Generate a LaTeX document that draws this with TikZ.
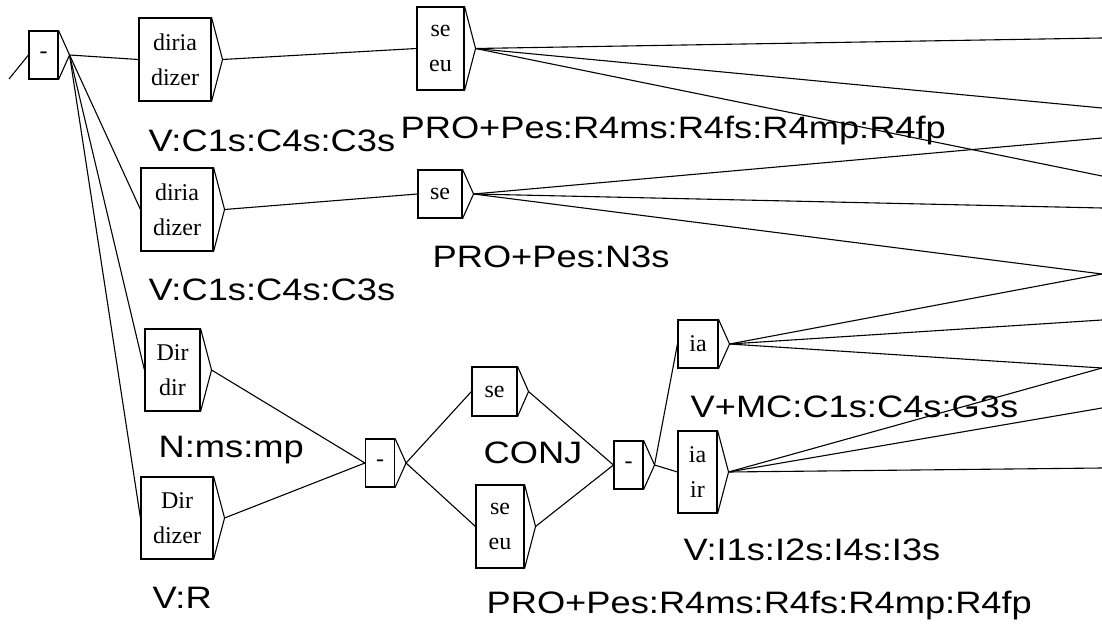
\documentclass[tikz,border=0pt]{standalone}
\usepackage{fontspec}
\newfontfamily\boxfont{Liberation Serif}
\newfontfamily\tagfont{Liberation Sans}
\usetikzlibrary{positioning}

\begin{document}
\begin{tikzpicture}[
  x=1pt, y=-1pt,
  line width=1.1pt,
  boxnode/.style={draw, rectangle, inner sep=0pt, align=center, font=\boxfont\fontsize{24}{35}\selectfont},
  sepnode/.style={boxnode, minimum width=29pt, minimum height=48pt},
  tagnode/.style={anchor=base west, inner sep=0pt, font=\tagfont\fontsize{31}{31}\selectfont, xscale=1.17, transform shape}
]
  \useasboundingbox (0,0) rectangle (1102,628);

  % boxes
  \draw
    (43.5,55) node[sepnode] (b0){-}
    (175,59.5) node[boxnode, minimum width=72pt, minimum height=83pt] (b1){diria\\dizer}
    (177,209.5) node[boxnode, minimum width=72pt, minimum height=83pt] (b2){diria\\dizer}
    (172.5,370) node[boxnode, minimum width=55pt, minimum height=82pt] (b3){Dir\\dir}
    (177,518) node[boxnode, minimum width=72pt, minimum height=82pt] (b4){Dir\\dizer}
    (440.5,48.5) node[boxnode, minimum width=47pt, minimum height=83pt] (s1){se\\eu}
    (440,194) node[boxnode, minimum width=44pt, minimum height=48pt] (s2){se}
    (380,463) node[sepnode] (b5){-}
    (494.5,391.5) node[boxnode, minimum width=45pt, minimum height=49pt] (b6){se}
    (500,526.5) node[boxnode, minimum width=48pt, minimum height=83pt] (b7){se\\eu}
    (628.5,465) node[sepnode] (b8){-}
    (698,344) node[boxnode, minimum width=40pt, minimum height=48pt] (b9){ia}
    (697.5,472) node[boxnode, minimum width=39pt, minimum height=82pt] (b10){ia\\ir};

  % output triangles
  \foreach \n in {b0,b1,b2,b3,b4,s1,s2,b5,b6,b7,b8,b9,b10}
    \draw (\n.north east) -- ([xshift=11pt]\n.east) coordinate (\n-tip) -- (\n.south east);

  % loose ends
  \coordinate (in) at (9,79);
  \foreach \y [count=\i] in {38,108,138,176,208,274,320,368,408,468}
    \coordinate (r\i) at (1102,\y);

  \begin{scope}[-]
    \draw (in) to (b0.west);
    \draw (b0-tip) to (b1.west);
    \draw (b0-tip) to (b2.west);
    \draw (b0-tip) to (b3.west);
    \draw (b0-tip) to (b4.west);
    \draw (b1-tip) to (s1.west);
    \draw (b2-tip) to (s2.west);
    \draw (b3-tip) to (b5.west);
    \draw (b4-tip) to (b5.west);
    \draw (b5-tip) to (b6.west);
    \draw (b5-tip) to (b7.west);
    \draw (b6-tip) to (b8.west);
    \draw (b7-tip) to (b8.west);
    \draw (b8-tip) to (b9.west);
    \draw (b8-tip) to (b10.west);
    \foreach \r in {r1,r2,r4} \draw (s1-tip) to (\r);
    \foreach \r in {r3,r5,r6} \draw (s2-tip) to (\r);
    \foreach \r in {r6,r7,r8} \draw (b9-tip) to (\r);
    \foreach \r in {r8,r9,r10} \draw (b10-tip) to (\r);
  \end{scope}

  % tags
  \node[tagnode] (t1) at (148,152) {V:C1s:C4s:C3s};
  \node[tagnode] (t2) at (400,139) {PRO+Pes:R4ms:R4fs:R4mp:R4fp};
  \node[tagnode] (t3) at (148,300) {V:C1s:C4s:C3s};
  \node[tagnode] (t4) at (432,267) {PRO+Pes:N3s};
  \node[tagnode] (t5) at (158,457) {N:ms:mp};
  \node[tagnode] (t6) at (152,608) {V:R};
  \node[tagnode] (t7) at (483,463) {CONJ};
  \node[tagnode] (t8) at (690,417) {V+MC:C1s:C4s:G3s};
  \node[tagnode] (t9) at (683,560) {V:I1s:I2s:I4s:I3s};
  \node[tagnode] (t10) at (486,613) {PRO+Pes:R4ms:R4fs:R4mp:R4fp};
\end{tikzpicture}
\end{document}
